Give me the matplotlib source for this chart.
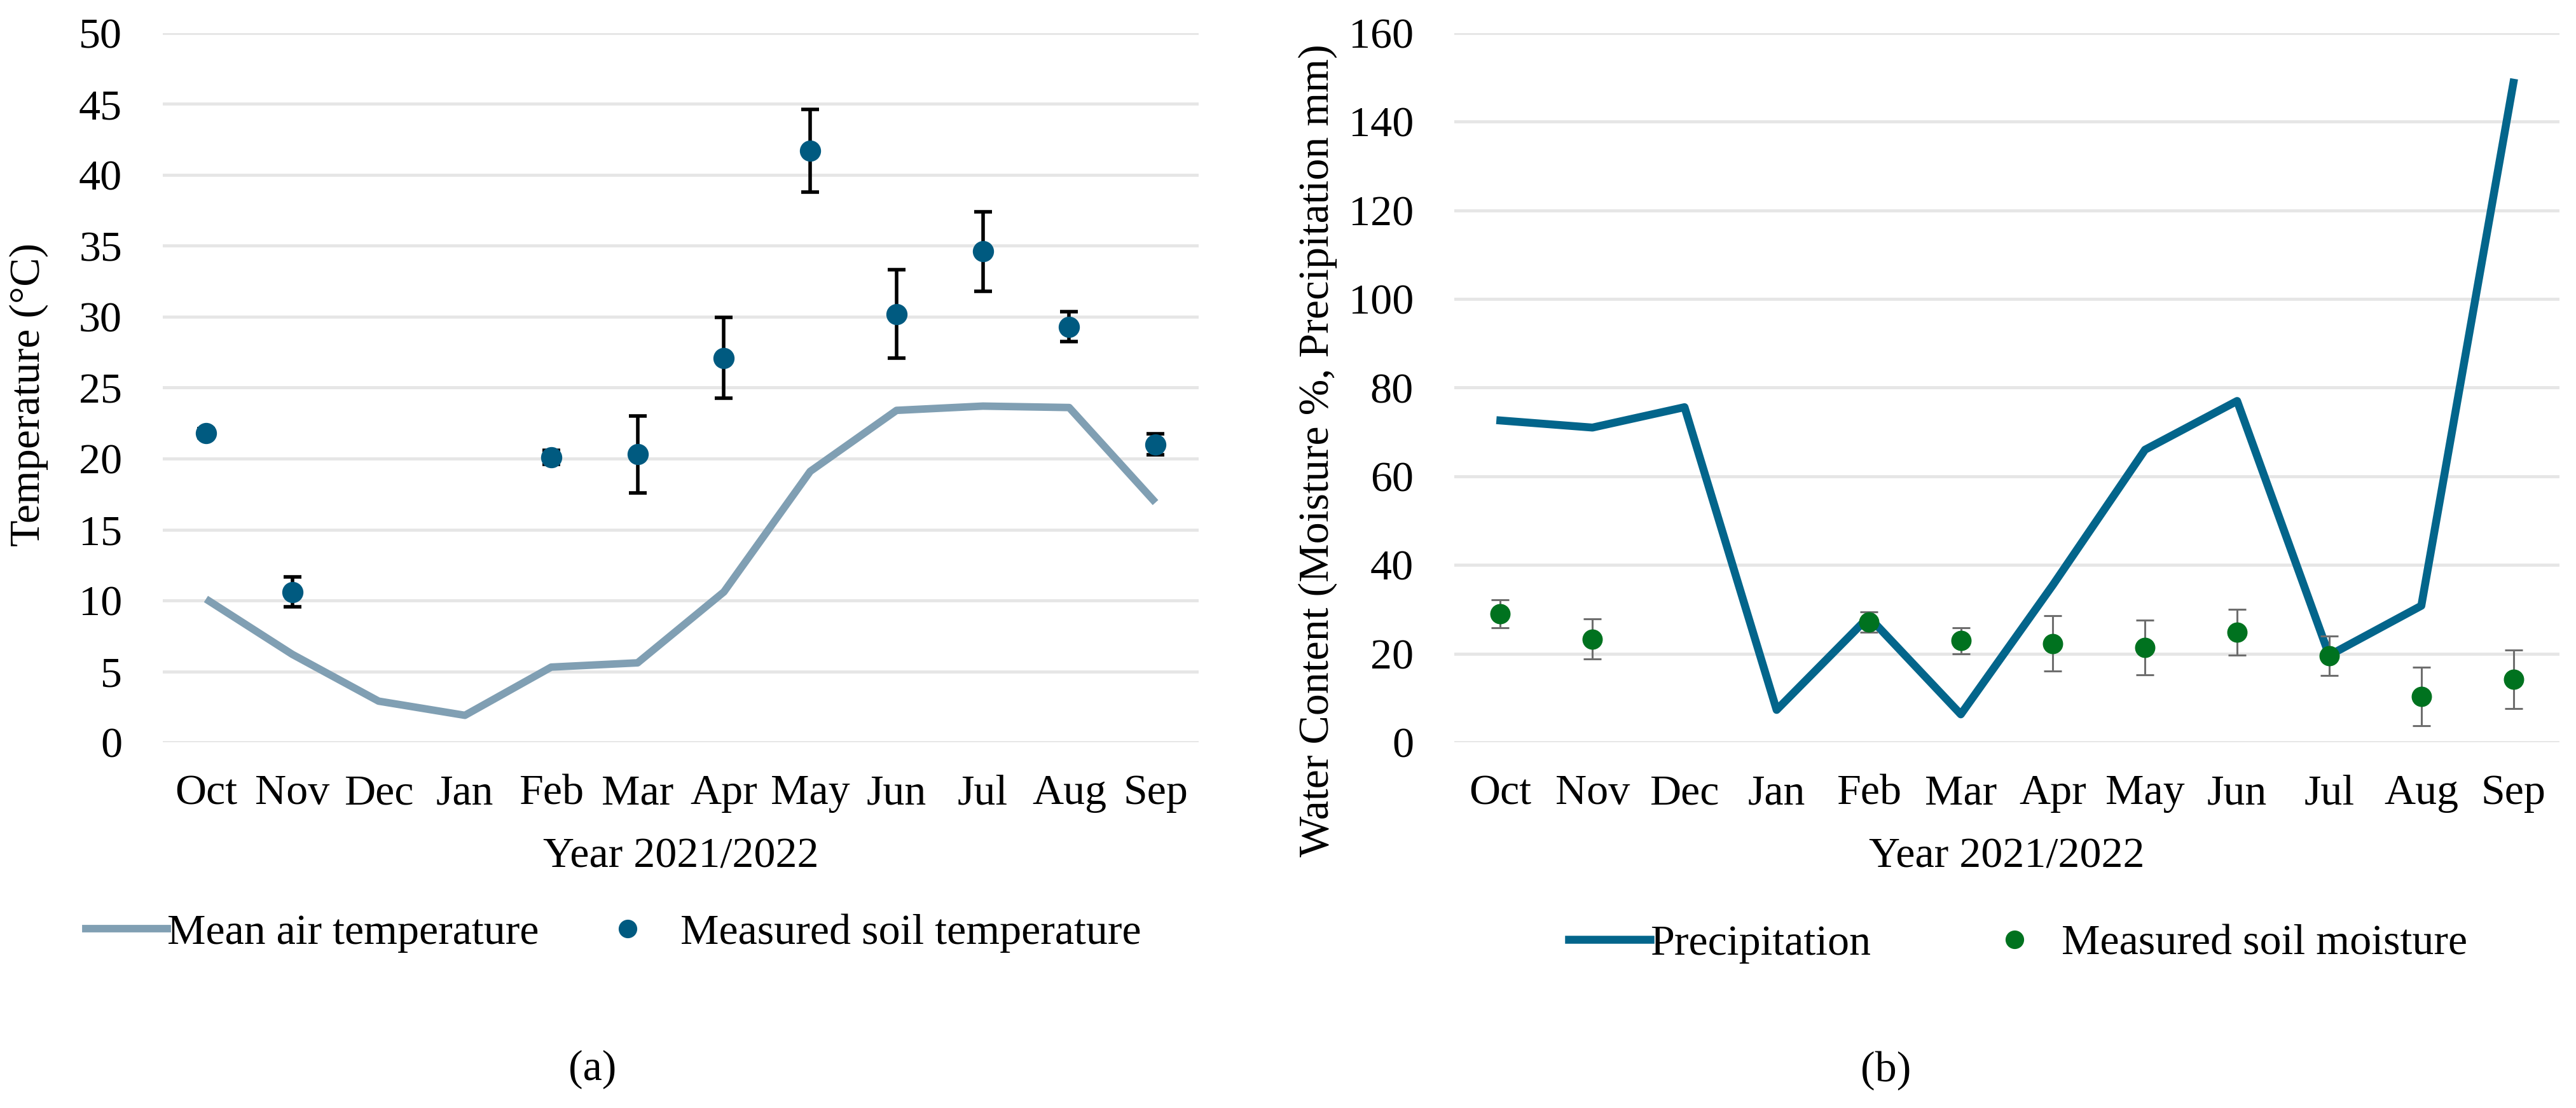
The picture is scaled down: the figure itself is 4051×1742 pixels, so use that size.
import numpy as np
import matplotlib
matplotlib.use("Agg")
import matplotlib.pyplot as plt
from matplotlib.lines import Line2D

months = ['Oct', 'Nov', 'Dec', 'Jan', 'Feb', 'Mar', 'Apr', 'May', 'Jun', 'Jul', 'Aug', 'Sep']
nan = np.nan

air_temp = [10.1, 6.2, 2.9, 1.9, 5.3, 5.6, 10.6, 19.1, 23.4, 23.7, 23.6, 16.9]
soil_temp = [21.8, 10.6, nan, nan, 20.1, 20.3, 27.1, 41.7, 30.2, 34.6, 29.3, 21.0]
soil_temp_err = [0.3, 1.05, nan, nan, 0.5, 2.7, 2.85, 2.9, 3.1, 2.8, 1.05, 0.75]

precip = [72.6, 71.0, 75.6, 7.3, 28.3, 6.3, 35.5, 66.0, 77.0, 19.6, 30.8, 148.8]
soil_moist = [29.0, 23.3, nan, nan, 27.1, 22.9, 22.3, 21.4, 24.8, 19.5, 10.4, 14.2]
soil_moist_err = [3.1, 4.5, nan, nan, 2.3, 2.9, 6.2, 6.2, 5.2, 4.5, 6.6, 6.6]

temp_ticks = list(range(0, 51, 5))
water_ticks = list(range(0, 161, 20))

W, H = 4051, 1742
DPI = 100
plt.rcParams['font.family'] = ['Liberation Serif', 'DejaVu Serif']
FS = 49

C_AIR = '#809fb3'
C_SOIL_T = '#005a80'
C_PRECIP = '#03658b'
C_MOIST = '#00721f'
C_GRID = '#e6e6e6'

fig = plt.figure(figsize=(W / DPI, H / DPI), dpi=DPI)


def px_axes(x0, x1, ytop, ybot):
    return fig.add_axes([x0 / W, 1 - ybot / H, (x1 - x0) / W, (ybot - ytop) / H])


def style(ax, ylim, yticks):
    x = np.arange(len(months))
    ax.set_xlim(-0.5, len(months) - 0.5)
    ax.set_ylim(*ylim)
    ax.set_yticks(yticks)
    ax.set_xticks(x)
    ax.set_xticklabels(months)
    for s in ax.spines.values():
        s.set_visible(False)
    ax.yaxis.grid(True, color=C_GRID, lw=3.5)
    ax.xaxis.grid(False)
    ax.set_axisbelow(True)
    ax.tick_params(axis='y', length=0, pad=46, labelsize=FS)
    ax.tick_params(axis='x', length=0, pad=36, labelsize=FS)


x = np.arange(len(months))

# ---- (a) temperature ----
ax1 = px_axes(256, 1885, 52, 1167)
style(ax1, (0, 50), temp_ticks)
ax1.plot(x, air_temp, color=C_AIR, lw=8.5, zorder=2, solid_capstyle='butt')
ax1.errorbar(x, soil_temp, yerr=soil_temp_err, fmt='o', color=C_SOIL_T, ms=23,
             ecolor='black', elinewidth=4, capsize=10, capthick=4, zorder=3)
ax1.set_ylabel('Temperature (°C)', fontsize=FS)
ax1.yaxis.label.set_va('center')
ax1.yaxis.set_label_coords(-0.1295, 0.49)
ax1.set_xlabel('Year 2021/2022', fontsize=FS)
ax1.xaxis.label.set_va('center')
ax1.xaxis.set_label_coords(0.5, (1167 - 1347) / 1115)

# ---- (b) water ----
ax2 = px_axes(2287, 4025, 52, 1167)
style(ax2, (0, 160), water_ticks)
ax2.plot(x, precip, color=C_PRECIP, lw=9, zorder=2)
ax2.errorbar(x, soil_moist, yerr=soil_moist_err, fmt='o', color=C_MOIST, ms=22,
             ecolor='#6e6e6e', elinewidth=2.2, capsize=10, capthick=2.2, zorder=3)
ax2.set_ylabel('Water Content (Moisture %, Precipitation mm)', fontsize=FS)
ax2.yaxis.label.set_va('center')
ax2.yaxis.set_label_coords((2072 - 2287) / 1738, (1167 - 708) / 1115)
ax2.set_xlabel('Year 2021/2022', fontsize=FS)
ax2.xaxis.label.set_va('center')
ax2.xaxis.set_label_coords(0.5, (1167 - 1347) / 1115)


def add_leg(handle, label, xpx, ypx, hl, htp):
    fig.legend([handle], [label], loc='center left',
               bbox_to_anchor=(xpx / W, 1 - ypx / H), frameon=False,
               fontsize=FS, borderpad=0, borderaxespad=0,
               handlelength=hl, handletextpad=htp)


em = FS / 72 * DPI
line_len = 128 / em
add_leg(Line2D([], [], color=C_AIR, lw=8.5), 'Mean air temperature', 135, 1467, line_len, 0.0)
add_leg(Line2D([], [], color=C_SOIL_T, marker='o', ls='none', ms=20),
        'Measured soil temperature', 987 - em / 2, 1467, 1.0, (1070 - 987 - em / 2) / em)
add_leg(Line2D([], [], color=C_PRECIP, lw=9), 'Precipitation', 2467, 1484, line_len, 0.0)
add_leg(Line2D([], [], color=C_MOIST, marker='o', ls='none', ms=20),
        'Measured soil moisture', 3168 - em / 2, 1484, 1.0, (3242 - 3168 - em / 2) / em)

fig.text(932 / W, 1 - 1681 / H, '(a)', fontsize=FS, ha='center', va='center')
fig.text(2966 / W, 1 - 1683 / H, '(b)', fontsize=FS, ha='center', va='center')

fig.savefig('out.png', dpi=DPI, facecolor='white')
